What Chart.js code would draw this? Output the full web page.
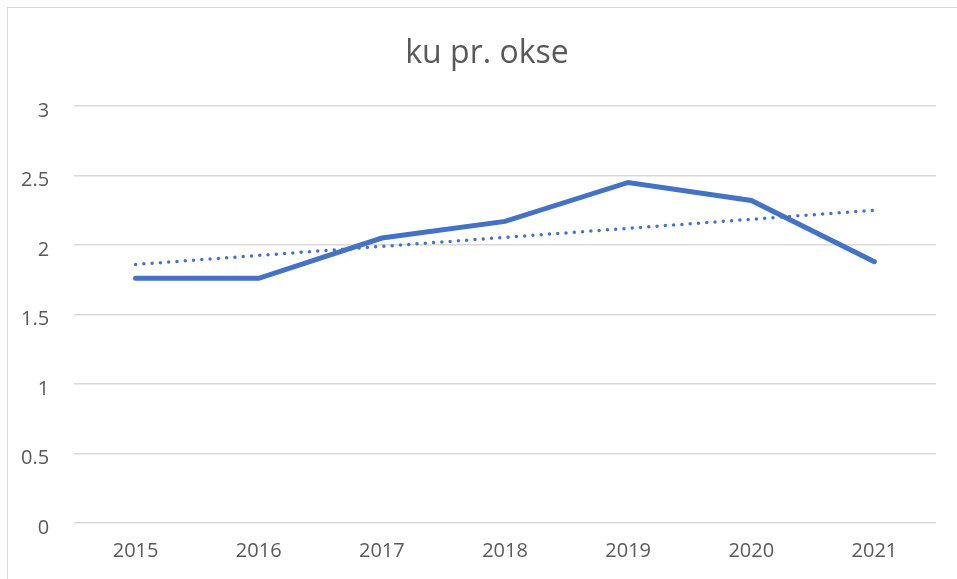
<!DOCTYPE html>
<html lang="da">
<head>
    <meta charset="UTF-8">
    <title>ku pr. okse</title>
    <script src="https://cdn.jsdelivr.net/npm/chart.js"></script>
    <style>
        html, body {
            margin: 0;
            padding: 0;
            background: #ffffff;
            overflow: hidden;
        }

        .frame {
            position: absolute;
            left: 7px;
            top: 7px;
            width: 980px;
            height: 600px;
            border: 1px solid #d9d9d9;
        }

        .chart-box {
            position: absolute;
            left: 0;
            top: 0;
            width: 957px;
            height: 579px;
        }
    </style>
</head>
<body>

    <div class="frame"></div>
    <div class="chart-box"><canvas id="kuChart"></canvas></div>

    <script>
        const years = ["2015", "2016", "2017", "2018", "2019", "2020", "2021"];
        const kuPrOkse = [1.76, 1.76, 2.05, 2.17, 2.45, 2.32, 1.88];
        // linear trendline: only the two end points
        const trendLine = [1.86, null, null, null, null, null, 2.25];

        const blue = "#4472C4";
        const textGrey = "#595959";

        new Chart(document.getElementById("kuChart"), {
            type: "line",
            data: {
                labels: years,
                datasets: [
                    {
                        label: "ku pr. okse",
                        data: kuPrOkse,
                        borderColor: blue,
                        borderWidth: 5,
                        borderCapStyle: "round",
                        borderJoinStyle: "miter",
                        pointRadius: 0,
                        tension: 0,
                        fill: false
                    },
                    {
                        label: "Lineær tendens",
                        data: trendLine,
                        borderColor: blue,
                        borderWidth: 3.5,
                        borderDash: [0, 8.3],
                        borderCapStyle: "round",
                        pointRadius: 0,
                        spanGaps: true,
                        fill: false
                    }
                ]
            },
            options: {
                responsive: true,
                maintainAspectRatio: false,
                animation: false,
                layout: {
                    // extra left padding keeps the title centred like the original
                    padding: { left: 38, right: 21, top: 0, bottom: 0 }
                },
                plugins: {
                    legend: { display: false },
                    tooltip: { enabled: false },
                    title: {
                        display: true,
                        text: "ku pr. okse",
                        color: textGrey,
                        font: { family: "'Open Sans', sans-serif", size: 32, weight: "normal" },
                        padding: { top: 35, bottom: 32.6 }
                    }
                },
                scales: {
                    x: {
                        offset: true,
                        grid: { display: false, drawTicks: false },
                        border: { display: false },
                        ticks: {
                            color: textGrey,
                            font: { family: "'Open Sans', sans-serif", size: 20 },
                            padding: 16,
                            maxRotation: 0
                        },
                        afterFit(scale) { scale.height = 56; }
                    },
                    y: {
                        min: 0,
                        max: 3,
                        grid: { color: "#d9d9d9", lineWidth: 1.5, drawTicks: false },
                        border: { display: false },
                        ticks: {
                            stepSize: 0.5,
                            color: textGrey,
                            font: { family: "'Open Sans', sans-serif", size: 20 },
                            // mirrored so the labels are not clipped to the narrow axis box
                            mirror: true,
                            crossAlign: "far",
                            padding: -53,
                            labelOffset: 5,
                            callback: value => String(value)
                        },
                        afterFit(scale) { scale.width = 36; }
                    }
                }
            }
        });
    </script>

</body>
</html>
